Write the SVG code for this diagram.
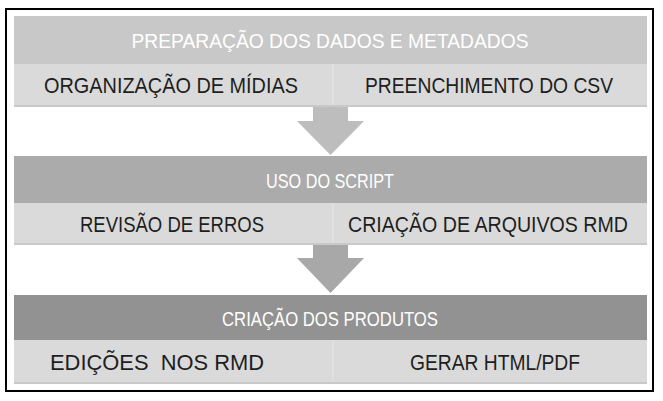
<svg xmlns="http://www.w3.org/2000/svg" width="663" height="401" viewBox="0 0 663 401">
  <style>
    .hdr-txt { font-family: "Liberation Sans", Arial, sans-serif; font-size: 21px; fill: #ffffff; text-anchor: middle; }
    .cell-txt { font-family: "Liberation Sans", Arial, sans-serif; font-size: 21.5px; fill: #1e1e1e; text-anchor: middle; }
    .cell { fill: #dadada; }
    .shadow { fill: #c9c9c9; }
    .divider { stroke: #e4e4e4; stroke-width: 1.2; }
  </style>
  <rect x="0" y="0" width="663" height="401" fill="#ffffff"/>
  <rect id="frame" x="6" y="9" width="647" height="382" fill="#ffffff" stroke="#000000" stroke-width="2"/>

  <!-- Stage 1 -->
  <g id="header-preparacao">
    <rect x="14" y="16" width="633" height="48" fill="#c8c8c8"/>
    <text class="hdr-txt" x="330" y="48" textLength="397" lengthAdjust="spacingAndGlyphs">PREPARAÇÃO DOS DADOS E METADADOS</text>
  </g>
  <g id="cell-organizacao">
    <rect class="cell" x="14" y="64" width="319" height="43"/>
    <rect class="shadow" x="14" y="105" width="319" height="2"/>
    <text class="cell-txt" x="171" y="93" textLength="254" lengthAdjust="spacingAndGlyphs">ORGANIZAÇÃO DE MÍDIAS</text>
  </g>
  <g id="cell-preenchimento">
    <rect class="cell" x="333" y="64" width="314" height="43"/>
    <rect class="shadow" x="333" y="105" width="314" height="2"/>
    <text class="cell-txt" x="489" y="93" textLength="248" lengthAdjust="spacingAndGlyphs">PREENCHIMENTO DO CSV</text>
  </g>
  <line class="divider" x1="333" y1="64" x2="333" y2="105"/>

  <!-- Stage 2 -->
  <g id="header-script">
    <rect x="14" y="156" width="633" height="47" fill="#ababab"/>
    <text class="hdr-txt" x="330" y="187.5" textLength="128" lengthAdjust="spacingAndGlyphs">USO DO SCRIPT</text>
  </g>
  <g id="cell-revisao">
    <rect class="cell" x="14" y="203" width="319" height="42"/>
    <rect class="shadow" x="14" y="243" width="319" height="2"/>
    <text class="cell-txt" x="172" y="231.5" textLength="184" lengthAdjust="spacingAndGlyphs">REVISÃO DE ERROS</text>
  </g>
  <g id="cell-criacao-rmd">
    <rect class="cell" x="333" y="203" width="314" height="42"/>
    <rect class="shadow" x="333" y="243" width="314" height="2"/>
    <text class="cell-txt" x="488" y="231.5" textLength="280" lengthAdjust="spacingAndGlyphs">CRIAÇÃO DE ARQUIVOS RMD</text>
  </g>
  <line class="divider" x1="333" y1="203" x2="333" y2="243"/>

  <!-- Stage 3 -->
  <g id="header-produtos">
    <rect x="14" y="295" width="633" height="45" fill="#929292"/>
    <text class="hdr-txt" x="330" y="325.5" textLength="216" lengthAdjust="spacingAndGlyphs">CRIAÇÃO DOS PRODUTOS</text>
  </g>
  <g id="cell-edicoes">
    <rect class="cell" x="14" y="340" width="319" height="44"/>
    <rect class="shadow" x="14" y="382" width="319" height="2"/>
    <text class="cell-txt" x="157" y="370" textLength="214" lengthAdjust="spacingAndGlyphs" xml:space="preserve">EDIÇÕES  NOS RMD</text>
  </g>
  <g id="cell-gerar">
    <rect class="cell" x="333" y="340" width="314" height="44"/>
    <rect class="shadow" x="333" y="382" width="314" height="2"/>
    <text class="cell-txt" x="495" y="370" textLength="170" lengthAdjust="spacingAndGlyphs">GERAR HTML/PDF</text>
  </g>
  <line class="divider" x1="333" y1="340" x2="333" y2="382"/>

  <!-- Connectors -->
  <g id="connectors">
    <polygon points="313,107 348,107 348,121 364,121 330.5,155 297,121 313,121" fill="#bdbdbd"/>
    <polygon points="313,245 348,245 348,258 364,258 330.5,293 297,258 313,258" fill="#a8a8a8"/>
  </g>
</svg>
